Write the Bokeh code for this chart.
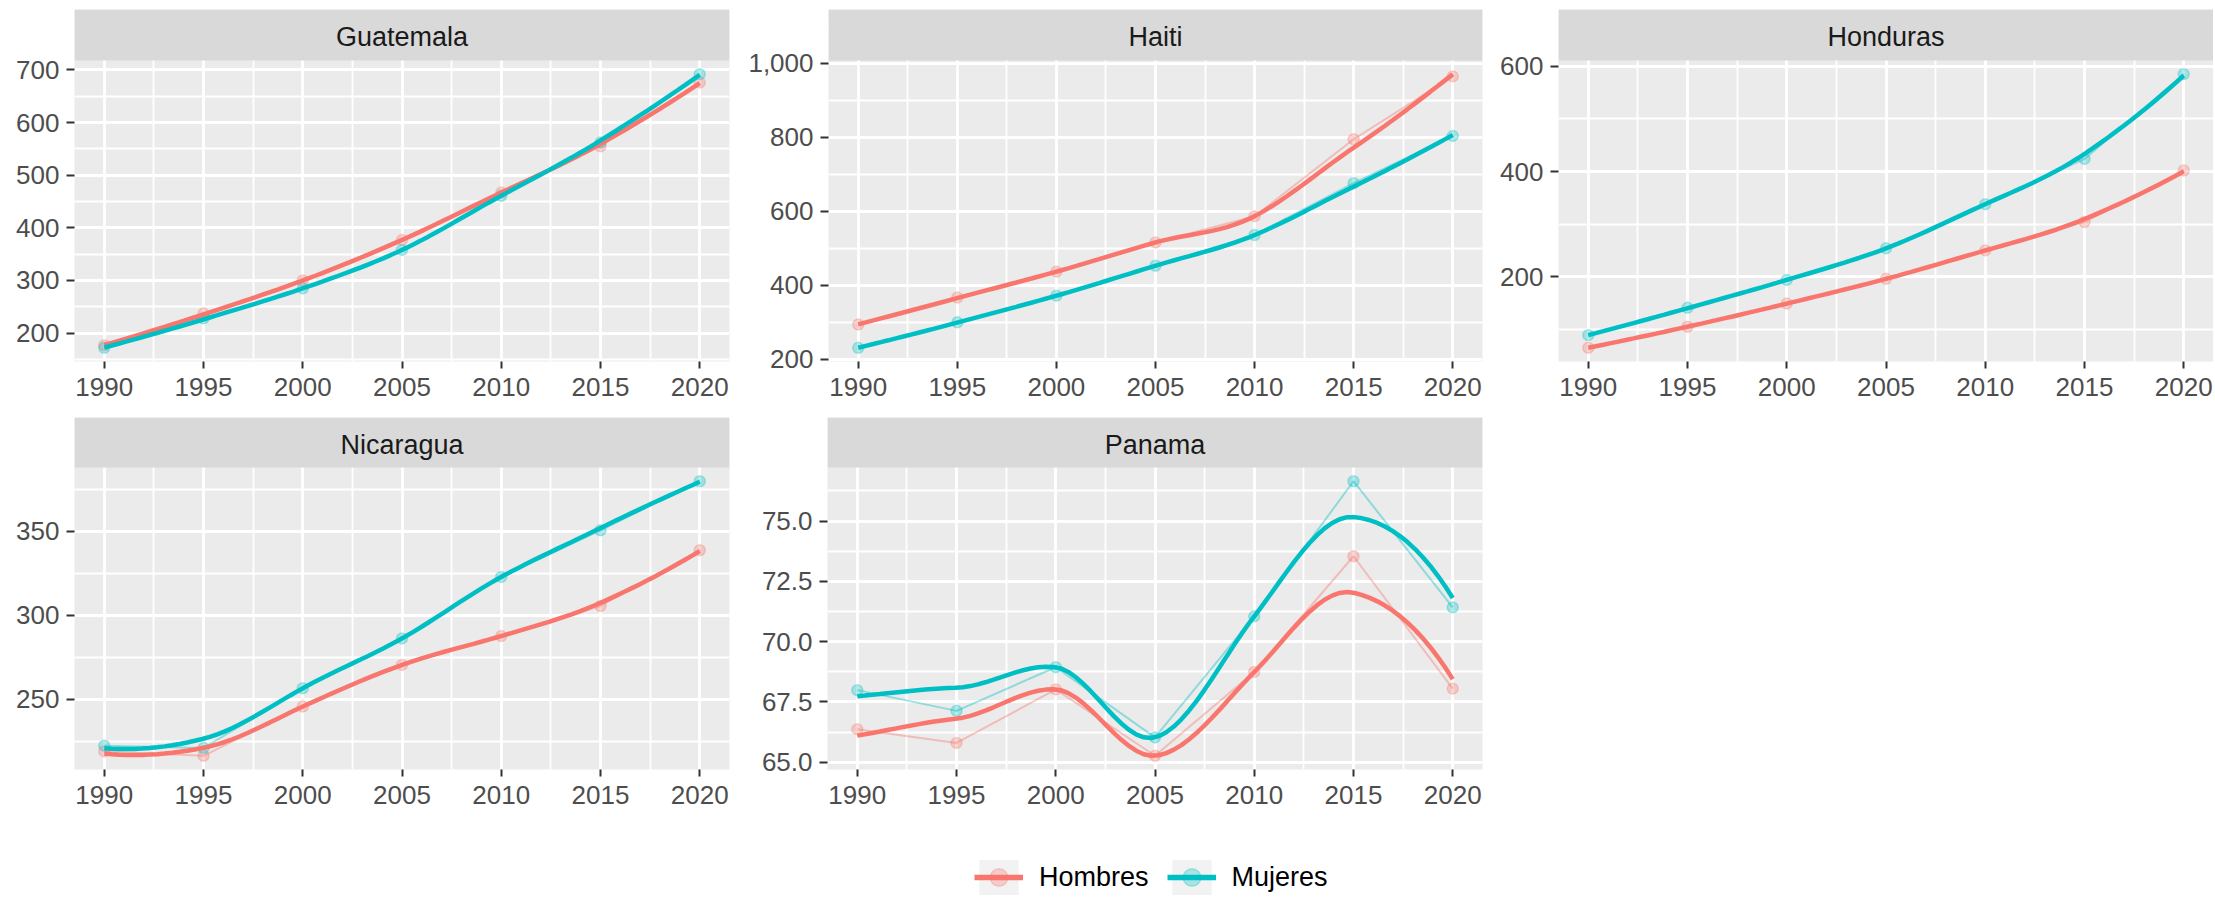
import numpy as np
from bokeh.plotting import figure
from bokeh.models import (Range1d, FixedTicker, NumeralTickFormatter, Legend,
                          LegendItem, ColumnDataSource)
from bokeh.layouts import row, column
from bokeh.embed import file_html
from bokeh.resources import INLINE
from bokeh.core.properties import value

# ---------------- data ----------------
years = [1990, 1995, 2000, 2005, 2010, 2015, 2020]
countries = ["Guatemala", "Haiti", "Honduras", "Nicaragua", "Panama"]
sexes = ["Hombres", "Mujeres"]

guatemala_hombres = [177, 237, 300, 377, 467, 555, 676]
guatemala_mujeres = [172, 228, 285, 358, 461, 562, 692]
haiti_hombres = [294, 367, 437, 516, 587, 795, 965]
haiti_mujeres = [231, 300, 372, 453, 536, 676, 804]
honduras_hombres = [65, 105, 149, 196, 250, 304, 402]
honduras_mujeres = [89, 141, 194, 254, 338, 424, 585]
nicaragua_hombres = [218.9, 216.3, 245.6, 270.4, 287.6, 305.5, 338.7]
nicaragua_mujeres = [222.3, 220.9, 256.5, 286.2, 322.8, 350.6, 379.8]
panama_hombres = [66.37, 65.80, 68.02, 65.27, 68.74, 73.54, 68.05]
panama_mujeres = [67.99, 67.13, 68.94, 66.03, 71.05, 76.65, 71.42]

x_ticks = [1990, 1995, 2000, 2005, 2010, 2015, 2020]
guatemala_ticks = [200, 300, 400, 500, 600, 700]
haiti_ticks = [200, 400, 600, 800, 1000]
honduras_ticks = [200, 400, 600]
nicaragua_ticks = [250, 300, 350]
panama_ticks = [65.0, 67.5, 70.0, 72.5, 75.0]
tick_formats = ["0", "0,0", "0", "0", "0.0"]

COLORS = {"Hombres": "#F8766D", "Mujeres": "#00BFC4"}
FONT = "Liberation Sans"

# ---------------- loess smoother (as geom_smooth / R loess) ----------------
SPAN = 0.75


def local_fit(xs, ys, x0):
    n = len(xs)
    q = int(np.floor(n * SPAN))
    d = np.abs(xs - x0)
    h = np.sort(d)[q - 1]
    r = np.clip(d / h, 0, 1)
    w = (1 - r ** 3) ** 3
    X = np.column_stack([np.ones(n), xs - x0, (xs - x0) ** 2])
    sw = np.sqrt(w)
    beta = np.linalg.lstsq(X * sw[:, None], ys * sw, rcond=None)[0]
    return beta[0], beta[1]


def kd_vertices(xs):
    xs = np.sort(xs)
    n = len(xs)
    fc = int(np.floor(n * SPAN * 0.2))
    margin = 0.005 * (xs[-1] - xs[0])
    verts = {xs[0] - margin, xs[-1] + margin}

    def split(l, u):
        if u - l + 1 <= fc:
            return
        m = (l + u) // 2
        verts.add(xs[m])
        split(l, m)
        split(m + 1, u)

    split(0, n - 1)
    return np.array(sorted(verts))


def loess_curve(xs, ys, xg):
    v = kd_vertices(xs)
    fits = [local_fit(xs, ys, vv) for vv in v]
    out = []
    for x in xg:
        i = min(max(np.searchsorted(v, x, side="right") - 1, 0), len(v) - 2)
        v0, v1 = v[i], v[i + 1]
        f0, s0 = fits[i]
        f1, s1 = fits[i + 1]
        hl = v1 - v0
        t = (x - v0) / hl
        h00 = 2 * t ** 3 - 3 * t ** 2 + 1
        h10 = t ** 3 - 2 * t ** 2 + t
        h01 = -2 * t ** 3 + 3 * t ** 2
        h11 = t ** 3 - t ** 2
        out.append(h00 * f0 + h10 * hl * s0 + h01 * f1 + h11 * hl * s1)
    return np.array(out)


def minor_of(ticks):
    step = ticks[1] - ticks[0]
    return [t - step / 2 for t in ticks] + [ticks[-1] + step / 2]


# ---------------- panel builder ----------------
def panel(name, hombres, mujeres, yticks, fmt, left, fw, right,
          top, strip_h, panel_h, bottom):
    xs = np.array(years, float)
    xg = np.linspace(xs.min(), xs.max(), 80)
    data = {"Hombres": np.array(hombres, float), "Mujeres": np.array(mujeres, float)}
    smooth = {s: loess_curve(xs, data[s], xg) for s in sexes}
    allv = np.concatenate([data["Hombres"], data["Mujeres"],
                           smooth["Hombres"], smooth["Mujeres"]])
    lo, hi = allv.min(), allv.max()
    pad = 0.05 * (hi - lo)
    xpad = 0.05 * (xs.max() - xs.min())
    x0r, x1r = xs.min() - xpad, xs.max() + xpad
    ylo, yhi = lo - pad, hi + pad
    # the facet strip sits on top of the panel, inside the same frame
    ytop = yhi + (yhi - ylo) * strip_h / panel_h

    p = figure(width=left + fw + right, height=top + strip_h + panel_h + bottom,
               x_range=Range1d(x0r, x1r), y_range=Range1d(ylo, ytop),
               toolbar_location=None, output_backend="svg",
               min_border_left=left, min_border_right=right,
               min_border_top=top, min_border_bottom=bottom)
    p.background_fill_color = "#EBEBEB"
    p.border_fill_color = "white"
    p.outline_line_color = None

    xt = FixedTicker(ticks=x_ticks, minor_ticks=minor_of(x_ticks))
    yt = FixedTicker(ticks=yticks, minor_ticks=minor_of(yticks))
    p.xaxis.ticker = xt
    p.yaxis.ticker = yt
    p.xgrid.ticker = xt
    p.ygrid.ticker = yt
    p.yaxis.formatter = NumeralTickFormatter(format=fmt)
    p.xaxis.formatter = NumeralTickFormatter(format="0")
    for g in (p.xgrid, p.ygrid):
        g.grid_line_color = "white"
        g.grid_line_width = 2.8
        g.minor_grid_line_color = "white"
        g.minor_grid_line_width = 1.8
    for ax in (p.xaxis, p.yaxis):
        ax.axis_line_color = None
        ax.major_tick_line_color = "#333333"
        ax.major_tick_line_width = 2
        ax.major_tick_in = 0
        ax.minor_tick_line_color = None
        ax.major_label_text_font = FONT
        ax.major_label_text_font_size = "26px"
        ax.major_label_text_color = "#4D4D4D"
    p.xaxis.major_tick_out = 7
    p.xaxis.major_label_standoff = 9
    p.yaxis.major_tick_out = 8
    p.yaxis.major_label_standoff = 7

    for s in sexes:
        src = ColumnDataSource(dict(x=xs, y=data[s]))
        p.scatter("x", "y", source=src, size=11, fill_color=COLORS[s], fill_alpha=0.3,
                  line_color=COLORS[s], line_alpha=0.3, line_width=1.5)
    for s in sexes:
        src = ColumnDataSource(dict(x=xs, y=data[s]))
        p.line("x", "y", source=src, line_color=COLORS[s], line_alpha=0.4, line_width=2)
    for s in sexes:
        src = ColumnDataSource(dict(x=xg, y=smooth[s]))
        p.line("x", "y", source=src, line_color=COLORS[s], line_width=4.5)

    p.quad(left=[x0r], right=[x1r], bottom=[yhi], top=[ytop],
           fill_color="#D9D9D9", line_color=None)
    p.text(x=[(x0r + x1r) / 2], y=[(yhi + ytop) / 2], text=[name], y_offset=2,
           text_align="center", text_baseline="middle",
           text_font=value(FONT), text_font_size="27px", text_color="#1A1A1A")
    return p


cols = [(74, 655, 16), (82, 655, 6), (70, 655, 0)]
values = [(guatemala_hombres, guatemala_mujeres), (haiti_hombres, haiti_mujeres),
          (honduras_hombres, honduras_mujeres), (nicaragua_hombres, nicaragua_mujeres),
          (panama_hombres, panama_mujeres)]
ticks = [guatemala_ticks, haiti_ticks, honduras_ticks, nicaragua_ticks, panama_ticks]

row1 = row(*[panel(countries[i], values[i][0], values[i][1], ticks[i], tick_formats[i],
                   *cols[i], 9, 51, 301, 56) for i in range(3)])
row2 = row(*[panel(countries[i], values[i][0], values[i][1], ticks[i], tick_formats[i],
                   *cols[i - 3], 0, 50, 302, 60) for i in range(3, 5)])

# ---------------- legend ----------------
LEG_LEFT = 974
lf = figure(width=2213, height=70, x_range=Range1d(0, 1), y_range=Range1d(0, 1),
            x_axis_location=None, y_axis_location=None, toolbar_location=None,
            output_backend="svg", min_border_left=LEG_LEFT, min_border_right=0,
            min_border_top=0, min_border_bottom=0)
lf.grid.visible = False
lf.outline_line_color = None
lf.background_fill_color = "white"
lf.border_fill_color = "white"
items = []
for s in sexes:
    key_src = ColumnDataSource(dict(x=[np.nan], y=[np.nan]))
    rk = lf.patch("x", "y", source=key_src, fill_color="#F2F2F2", line_color=None)
    rl = lf.line("x", "y", source=key_src, line_color=COLORS[s], line_width=5.5)
    rp = lf.scatter("x", "y", source=key_src, size=11, fill_color=COLORS[s], fill_alpha=0.3,
                    line_color=COLORS[s], line_alpha=0.3, line_width=1.5)
    items.append(LegendItem(label=s, renderers=[rk, rl, rp]))
legend = Legend(items=items, orientation="horizontal", location="bottom_left",
                glyph_width=49, glyph_height=44, label_standoff=16, spacing=18,
                padding=0, margin=0, border_line_color=None, background_fill_alpha=0,
                label_text_font=FONT, label_text_font_size="27px", label_text_color="black")
lf.add_layout(legend)

layout = column(row1, row2, lf)
open("out.html", "w").write(file_html(layout, INLINE))
